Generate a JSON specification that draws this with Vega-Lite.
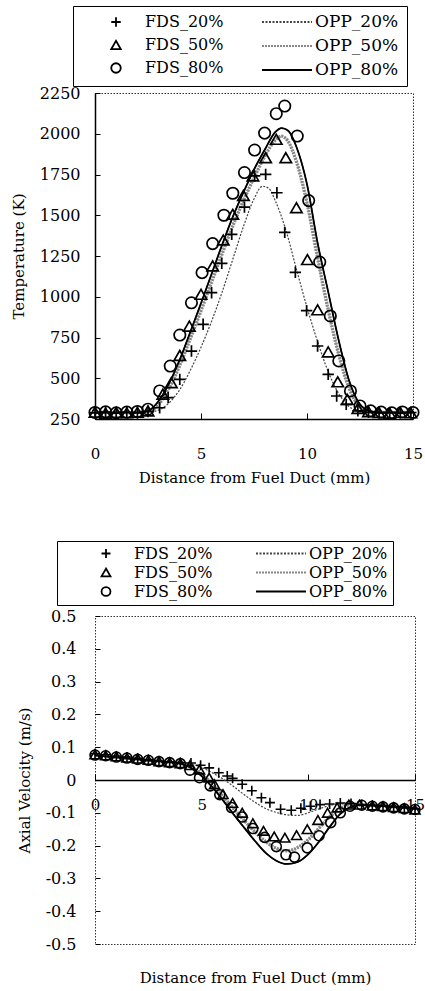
{
  "$schema": "https://vega.github.io/schema/vega-lite/v6.json",
  "background": "white",
  "padding": {"top": 5, "left": 10, "right": 0, "bottom": 0},
  "config": {
    "view": {"stroke": "#333", "strokeDash": [1.5, 1.5], "strokeWidth": 1},
    "font": "DejaVu Serif",
    "axis": {"labelFont": "DejaVu Serif", "titleFont": "DejaVu Serif", "labelColor": "black", "titleColor": "black", "labelFontSize": 16, "titleFontSize": 15, "titleFontWeight": "normal", "grid": false, "domainColor": "black", "tickColor": "black"},
    "legend": {"labelFont": "DejaVu Serif", "labelColor": "black", "titleFont": "DejaVu Serif"}
  },
  "datasets": {
    "oppT": [
      {"s":"OPP_20%","x":0,"y":288},{"s":"OPP_20%","x":1,"y":288},{"s":"OPP_20%","x":2,"y":289},{"s":"OPP_20%","x":2.5,"y":292},{"s":"OPP_20%","x":3,"y":305},{"s":"OPP_20%","x":3.5,"y":350},{"s":"OPP_20%","x":4,"y":430},{"s":"OPP_20%","x":4.5,"y":550},{"s":"OPP_20%","x":5,"y":690},{"s":"OPP_20%","x":5.5,"y":850},{"s":"OPP_20%","x":6,"y":1030},{"s":"OPP_20%","x":6.5,"y":1230},{"s":"OPP_20%","x":7,"y":1430},{"s":"OPP_20%","x":7.5,"y":1600},{"s":"OPP_20%","x":7.9,"y":1678},{"s":"OPP_20%","x":8.2,"y":1665},{"s":"OPP_20%","x":8.5,"y":1590},{"s":"OPP_20%","x":9,"y":1410},{"s":"OPP_20%","x":9.5,"y":1170},{"s":"OPP_20%","x":10,"y":935},{"s":"OPP_20%","x":10.5,"y":725},{"s":"OPP_20%","x":11,"y":540},{"s":"OPP_20%","x":11.5,"y":405},{"s":"OPP_20%","x":12,"y":325},{"s":"OPP_20%","x":12.5,"y":297},{"s":"OPP_20%","x":13,"y":289},{"s":"OPP_20%","x":14,"y":288},{"s":"OPP_20%","x":15,"y":288},
      {"s":"OPP_50%","x":0,"y":290},{"s":"OPP_50%","x":1,"y":290},{"s":"OPP_50%","x":2,"y":291},{"s":"OPP_50%","x":2.5,"y":296},{"s":"OPP_50%","x":3,"y":340},{"s":"OPP_50%","x":3.5,"y":440},{"s":"OPP_50%","x":4,"y":580},{"s":"OPP_50%","x":4.5,"y":745},{"s":"OPP_50%","x":5,"y":915},{"s":"OPP_50%","x":5.5,"y":1090},{"s":"OPP_50%","x":6,"y":1265},{"s":"OPP_50%","x":6.5,"y":1435},{"s":"OPP_50%","x":7,"y":1590},{"s":"OPP_50%","x":7.5,"y":1730},{"s":"OPP_50%","x":8,"y":1860},{"s":"OPP_50%","x":8.5,"y":1960},{"s":"OPP_50%","x":8.8,"y":1985},{"s":"OPP_50%","x":9.1,"y":1955},{"s":"OPP_50%","x":9.5,"y":1830},{"s":"OPP_50%","x":10,"y":1575},{"s":"OPP_50%","x":10.5,"y":1240},{"s":"OPP_50%","x":11,"y":920},{"s":"OPP_50%","x":11.5,"y":645},{"s":"OPP_50%","x":12,"y":435},{"s":"OPP_50%","x":12.5,"y":325},{"s":"OPP_50%","x":13,"y":295},{"s":"OPP_50%","x":13.5,"y":290},{"s":"OPP_50%","x":15,"y":290},
      {"s":"OPP_80%","x":0,"y":290},{"s":"OPP_80%","x":1,"y":290},{"s":"OPP_80%","x":2,"y":291},{"s":"OPP_80%","x":2.5,"y":300},{"s":"OPP_80%","x":3,"y":360},{"s":"OPP_80%","x":3.5,"y":470},{"s":"OPP_80%","x":4,"y":615},{"s":"OPP_80%","x":4.5,"y":785},{"s":"OPP_80%","x":5,"y":960},{"s":"OPP_80%","x":5.5,"y":1140},{"s":"OPP_80%","x":6,"y":1320},{"s":"OPP_80%","x":6.5,"y":1490},{"s":"OPP_80%","x":7,"y":1640},{"s":"OPP_80%","x":7.5,"y":1780},{"s":"OPP_80%","x":8,"y":1900},{"s":"OPP_80%","x":8.5,"y":2010},{"s":"OPP_80%","x":8.8,"y":2035},{"s":"OPP_80%","x":9.1,"y":2020},{"s":"OPP_80%","x":9.5,"y":1920},{"s":"OPP_80%","x":10,"y":1690},{"s":"OPP_80%","x":10.5,"y":1330},{"s":"OPP_80%","x":11,"y":1030},{"s":"OPP_80%","x":11.5,"y":730},{"s":"OPP_80%","x":12,"y":480},{"s":"OPP_80%","x":12.5,"y":340},{"s":"OPP_80%","x":13,"y":297},{"s":"OPP_80%","x":13.5,"y":290},{"s":"OPP_80%","x":15,"y":290}
    ],
    "fdsT": [
      {"s":"FDS_20%","x":0,"y":288},{"s":"FDS_20%","x":0.5,"y":292},{"s":"FDS_20%","x":1,"y":286},{"s":"FDS_20%","x":1.5,"y":290},{"s":"FDS_20%","x":2,"y":287},{"s":"FDS_20%","x":2.5,"y":296},{"s":"FDS_20%","x":3.05,"y":319},{"s":"FDS_20%","x":3.45,"y":381},{"s":"FDS_20%","x":4,"y":493},{"s":"FDS_20%","x":4.55,"y":667},{"s":"FDS_20%","x":5.1,"y":831},{"s":"FDS_20%","x":5.5,"y":1025},{"s":"FDS_20%","x":5.98,"y":1205},{"s":"FDS_20%","x":6.45,"y":1383},{"s":"FDS_20%","x":7.05,"y":1550},{"s":"FDS_20%","x":7.53,"y":1741},{"s":"FDS_20%","x":8.05,"y":1751},{"s":"FDS_20%","x":8.58,"y":1638},{"s":"FDS_20%","x":8.95,"y":1395},{"s":"FDS_20%","x":9.45,"y":1150},{"s":"FDS_20%","x":9.98,"y":915},{"s":"FDS_20%","x":10.5,"y":698},{"s":"FDS_20%","x":11,"y":524},{"s":"FDS_20%","x":11.4,"y":391},{"s":"FDS_20%","x":11.85,"y":340},{"s":"FDS_20%","x":12.4,"y":300},{"s":"FDS_20%","x":12.9,"y":291},{"s":"FDS_20%","x":13.4,"y":287},{"s":"FDS_20%","x":13.9,"y":289},{"s":"FDS_20%","x":14.4,"y":286},{"s":"FDS_20%","x":14.9,"y":290},
      {"s":"FDS_50%","x":0,"y":292},{"s":"FDS_50%","x":0.5,"y":286},{"s":"FDS_50%","x":1,"y":290},{"s":"FDS_50%","x":1.5,"y":288},{"s":"FDS_50%","x":2,"y":291},{"s":"FDS_50%","x":2.5,"y":300},{"s":"FDS_50%","x":3.2,"y":402},{"s":"FDS_50%","x":3.6,"y":473},{"s":"FDS_50%","x":4,"y":640},{"s":"FDS_50%","x":4.45,"y":820},{"s":"FDS_50%","x":5,"y":1015},{"s":"FDS_50%","x":5.55,"y":1189},{"s":"FDS_50%","x":6.05,"y":1348},{"s":"FDS_50%","x":6.5,"y":1506},{"s":"FDS_50%","x":7,"y":1622},{"s":"FDS_50%","x":7.45,"y":1741},{"s":"FDS_50%","x":8.05,"y":1853},{"s":"FDS_50%","x":8.55,"y":1966},{"s":"FDS_50%","x":9,"y":1853},{"s":"FDS_50%","x":9.5,"y":1546},{"s":"FDS_50%","x":10.02,"y":1228},{"s":"FDS_50%","x":10.5,"y":920},{"s":"FDS_50%","x":11,"y":662},{"s":"FDS_50%","x":11.45,"y":478},{"s":"FDS_50%","x":11.9,"y":370},{"s":"FDS_50%","x":12.4,"y":315},{"s":"FDS_50%","x":12.9,"y":295},{"s":"FDS_50%","x":13.4,"y":290},{"s":"FDS_50%","x":13.9,"y":286},{"s":"FDS_50%","x":14.4,"y":291},{"s":"FDS_50%","x":14.9,"y":288},
      {"s":"FDS_80%","x":0,"y":290},{"s":"FDS_80%","x":0.5,"y":294},{"s":"FDS_80%","x":1,"y":288},{"s":"FDS_80%","x":1.5,"y":292},{"s":"FDS_80%","x":2,"y":296},{"s":"FDS_80%","x":2.5,"y":310},{"s":"FDS_80%","x":3.05,"y":422},{"s":"FDS_80%","x":3.55,"y":575},{"s":"FDS_80%","x":4,"y":765},{"s":"FDS_80%","x":4.55,"y":963},{"s":"FDS_80%","x":5.05,"y":1148},{"s":"FDS_80%","x":5.55,"y":1326},{"s":"FDS_80%","x":6.08,"y":1500},{"s":"FDS_80%","x":6.5,"y":1635},{"s":"FDS_80%","x":7.05,"y":1762},{"s":"FDS_80%","x":7.53,"y":1900},{"s":"FDS_80%","x":8,"y":2004},{"s":"FDS_80%","x":8.55,"y":2123},{"s":"FDS_80%","x":8.95,"y":2170},{"s":"FDS_80%","x":9.54,"y":1986},{"s":"FDS_80%","x":10.08,"y":1590},{"s":"FDS_80%","x":10.6,"y":1213},{"s":"FDS_80%","x":11.1,"y":882},{"s":"FDS_80%","x":11.5,"y":606},{"s":"FDS_80%","x":12.05,"y":422},{"s":"FDS_80%","x":12.5,"y":330},{"s":"FDS_80%","x":13,"y":300},{"s":"FDS_80%","x":13.5,"y":292},{"s":"FDS_80%","x":14,"y":288},{"s":"FDS_80%","x":14.5,"y":293},{"s":"FDS_80%","x":15,"y":290}
    ],
    "oppV": [
      {"s":"OPP_20%","x":0,"y":0.075},{"s":"OPP_20%","x":1,"y":0.069},{"s":"OPP_20%","x":2,"y":0.063},{"s":"OPP_20%","x":3,"y":0.058},{"s":"OPP_20%","x":4,"y":0.052},{"s":"OPP_20%","x":4.5,"y":0.048},{"s":"OPP_20%","x":5,"y":0.038},{"s":"OPP_20%","x":5.5,"y":0.022},{"s":"OPP_20%","x":6,"y":0.003},{"s":"OPP_20%","x":6.5,"y":-0.02},{"s":"OPP_20%","x":7,"y":-0.045},{"s":"OPP_20%","x":7.5,"y":-0.068},{"s":"OPP_20%","x":8,"y":-0.087},{"s":"OPP_20%","x":8.5,"y":-0.099},{"s":"OPP_20%","x":9,"y":-0.106},{"s":"OPP_20%","x":9.5,"y":-0.108},{"s":"OPP_20%","x":10,"y":-0.1},{"s":"OPP_20%","x":10.5,"y":-0.088},{"s":"OPP_20%","x":11,"y":-0.078},{"s":"OPP_20%","x":11.5,"y":-0.073},{"s":"OPP_20%","x":12,"y":-0.073},{"s":"OPP_20%","x":13,"y":-0.077},{"s":"OPP_20%","x":14,"y":-0.081},{"s":"OPP_20%","x":15,"y":-0.085},
      {"s":"OPP_50%","x":0,"y":0.075},{"s":"OPP_50%","x":1,"y":0.069},{"s":"OPP_50%","x":2,"y":0.063},{"s":"OPP_50%","x":3,"y":0.057},{"s":"OPP_50%","x":4,"y":0.051},{"s":"OPP_50%","x":4.5,"y":0.04},{"s":"OPP_50%","x":5,"y":0.018},{"s":"OPP_50%","x":5.5,"y":-0.013},{"s":"OPP_50%","x":6,"y":-0.05},{"s":"OPP_50%","x":6.5,"y":-0.088},{"s":"OPP_50%","x":7,"y":-0.124},{"s":"OPP_50%","x":7.5,"y":-0.158},{"s":"OPP_50%","x":8,"y":-0.188},{"s":"OPP_50%","x":8.5,"y":-0.208},{"s":"OPP_50%","x":9,"y":-0.216},{"s":"OPP_50%","x":9.5,"y":-0.206},{"s":"OPP_50%","x":10,"y":-0.182},{"s":"OPP_50%","x":10.5,"y":-0.147},{"s":"OPP_50%","x":11,"y":-0.112},{"s":"OPP_50%","x":11.5,"y":-0.087},{"s":"OPP_50%","x":12,"y":-0.076},{"s":"OPP_50%","x":13,"y":-0.077},{"s":"OPP_50%","x":14,"y":-0.081},{"s":"OPP_50%","x":15,"y":-0.085},
      {"s":"OPP_80%","x":0,"y":0.075},{"s":"OPP_80%","x":1,"y":0.069},{"s":"OPP_80%","x":2,"y":0.063},{"s":"OPP_80%","x":3,"y":0.057},{"s":"OPP_80%","x":4,"y":0.05},{"s":"OPP_80%","x":4.5,"y":0.037},{"s":"OPP_80%","x":5,"y":0.012},{"s":"OPP_80%","x":5.5,"y":-0.022},{"s":"OPP_80%","x":6,"y":-0.062},{"s":"OPP_80%","x":6.5,"y":-0.105},{"s":"OPP_80%","x":7,"y":-0.146},{"s":"OPP_80%","x":7.5,"y":-0.186},{"s":"OPP_80%","x":8,"y":-0.222},{"s":"OPP_80%","x":8.5,"y":-0.246},{"s":"OPP_80%","x":9,"y":-0.256},{"s":"OPP_80%","x":9.5,"y":-0.25},{"s":"OPP_80%","x":10,"y":-0.226},{"s":"OPP_80%","x":10.5,"y":-0.188},{"s":"OPP_80%","x":11,"y":-0.143},{"s":"OPP_80%","x":11.5,"y":-0.103},{"s":"OPP_80%","x":12,"y":-0.082},{"s":"OPP_80%","x":12.5,"y":-0.076},{"s":"OPP_80%","x":13,"y":-0.077},{"s":"OPP_80%","x":14,"y":-0.081},{"s":"OPP_80%","x":15,"y":-0.085}
    ],
    "fdsV": [
      {"s":"FDS_20%","x":0,"y":0.08},{"s":"FDS_20%","x":0.5,"y":0.077},{"s":"FDS_20%","x":1,"y":0.073},{"s":"FDS_20%","x":1.5,"y":0.07},{"s":"FDS_20%","x":2,"y":0.066},{"s":"FDS_20%","x":2.5,"y":0.062},{"s":"FDS_20%","x":3,"y":0.058},{"s":"FDS_20%","x":3.5,"y":0.055},{"s":"FDS_20%","x":4,"y":0.053},{"s":"FDS_20%","x":4.5,"y":0.052},{"s":"FDS_20%","x":4.95,"y":0.045},{"s":"FDS_20%","x":5.35,"y":0.037},{"s":"FDS_20%","x":5.8,"y":0.022},{"s":"FDS_20%","x":6.2,"y":0.012},{"s":"FDS_20%","x":6.45,"y":0.005},{"s":"FDS_20%","x":6.9,"y":-0.013},{"s":"FDS_20%","x":7.35,"y":-0.033},{"s":"FDS_20%","x":7.8,"y":-0.054},{"s":"FDS_20%","x":8.2,"y":-0.069},{"s":"FDS_20%","x":8.7,"y":-0.089},{"s":"FDS_20%","x":9.2,"y":-0.092},{"s":"FDS_20%","x":9.65,"y":-0.086},{"s":"FDS_20%","x":10.1,"y":-0.08},{"s":"FDS_20%","x":10.55,"y":-0.075},{"s":"FDS_20%","x":11,"y":-0.073},{"s":"FDS_20%","x":11.5,"y":-0.07},{"s":"FDS_20%","x":12,"y":-0.072},{"s":"FDS_20%","x":12.5,"y":-0.075},{"s":"FDS_20%","x":13,"y":-0.078},{"s":"FDS_20%","x":13.5,"y":-0.08},{"s":"FDS_20%","x":14,"y":-0.082},{"s":"FDS_20%","x":14.5,"y":-0.085},{"s":"FDS_20%","x":15,"y":-0.088},
      {"s":"FDS_50%","x":0,"y":0.078},{"s":"FDS_50%","x":0.5,"y":0.075},{"s":"FDS_50%","x":1,"y":0.072},{"s":"FDS_50%","x":1.5,"y":0.068},{"s":"FDS_50%","x":2,"y":0.065},{"s":"FDS_50%","x":2.5,"y":0.061},{"s":"FDS_50%","x":3,"y":0.057},{"s":"FDS_50%","x":3.5,"y":0.054},{"s":"FDS_50%","x":4,"y":0.051},{"s":"FDS_50%","x":4.45,"y":0.045},{"s":"FDS_50%","x":4.9,"y":0.032},{"s":"FDS_50%","x":5.35,"y":0.007},{"s":"FDS_50%","x":5.6,"y":-0.013},{"s":"FDS_50%","x":6,"y":-0.043},{"s":"FDS_50%","x":6.45,"y":-0.07},{"s":"FDS_50%","x":6.9,"y":-0.1},{"s":"FDS_50%","x":7.4,"y":-0.132},{"s":"FDS_50%","x":7.9,"y":-0.155},{"s":"FDS_50%","x":8.4,"y":-0.172},{"s":"FDS_50%","x":8.9,"y":-0.176},{"s":"FDS_50%","x":9.45,"y":-0.168},{"s":"FDS_50%","x":9.95,"y":-0.15},{"s":"FDS_50%","x":10.45,"y":-0.122},{"s":"FDS_50%","x":10.9,"y":-0.1},{"s":"FDS_50%","x":11.35,"y":-0.084},{"s":"FDS_50%","x":11.9,"y":-0.075},{"s":"FDS_50%","x":12.4,"y":-0.075},{"s":"FDS_50%","x":13,"y":-0.078},{"s":"FDS_50%","x":13.5,"y":-0.08},{"s":"FDS_50%","x":14,"y":-0.083},{"s":"FDS_50%","x":14.5,"y":-0.086},{"s":"FDS_50%","x":15,"y":-0.09},
      {"s":"FDS_80%","x":0,"y":0.076},{"s":"FDS_80%","x":0.5,"y":0.074},{"s":"FDS_80%","x":1,"y":0.07},{"s":"FDS_80%","x":1.5,"y":0.067},{"s":"FDS_80%","x":2,"y":0.063},{"s":"FDS_80%","x":2.5,"y":0.06},{"s":"FDS_80%","x":3,"y":0.056},{"s":"FDS_80%","x":3.5,"y":0.053},{"s":"FDS_80%","x":4,"y":0.05},{"s":"FDS_80%","x":4.45,"y":0.03},{"s":"FDS_80%","x":4.9,"y":0.007},{"s":"FDS_80%","x":5.4,"y":-0.018},{"s":"FDS_80%","x":5.85,"y":-0.045},{"s":"FDS_80%","x":6.4,"y":-0.084},{"s":"FDS_80%","x":6.9,"y":-0.113},{"s":"FDS_80%","x":7.4,"y":-0.148},{"s":"FDS_80%","x":7.95,"y":-0.175},{"s":"FDS_80%","x":8.5,"y":-0.203},{"s":"FDS_80%","x":8.95,"y":-0.228},{"s":"FDS_80%","x":9.35,"y":-0.235},{"s":"FDS_80%","x":9.95,"y":-0.207},{"s":"FDS_80%","x":10.5,"y":-0.17},{"s":"FDS_80%","x":11.05,"y":-0.13},{"s":"FDS_80%","x":11.5,"y":-0.1},{"s":"FDS_80%","x":11.95,"y":-0.08},{"s":"FDS_80%","x":12.5,"y":-0.077},{"s":"FDS_80%","x":13,"y":-0.08},{"s":"FDS_80%","x":13.5,"y":-0.082},{"s":"FDS_80%","x":14,"y":-0.085},{"s":"FDS_80%","x":14.5,"y":-0.088},{"s":"FDS_80%","x":15,"y":-0.09}
    ]
  },
  "resolve": {
    "scale": {"shape": "independent", "color": "independent", "strokeDash": "independent"},
    "legend": {"shape": "independent", "color": "independent", "strokeDash": "independent"}
  },
  "concat": [
    {
      "width": 318,
      "height": 326,
      "encoding": {
        "x": {"field": "x", "type": "quantitative", "scale": {"domain": [0, 15], "nice": false, "zero": false},
          "axis": {"title": "Distance from Fuel Duct (mm)", "values": [0, 5, 10, 15], "labelFlush": false, "labelFontSize": 15, "tickSize": -6, "domainWidth": 1.5, "labelPadding": 33, "titlePadding": 9}},
        "y": {"field": "y", "type": "quantitative", "scale": {"domain": [250, 2250], "nice": false, "zero": false},
          "axis": {"title": "Temperature (K)", "format": "d", "values": [250, 500, 750, 1000, 1250, 1500, 1750, 2000, 2250], "tickSize": -5, "domainWidth": 1.5, "labelPadding": 20, "titlePadding": 13}}
      },
      "layer": [
        {"data": {"name": "oppT"}, "mark": {"type": "line", "interpolate": "monotone", "strokeWidth": 1.2},
          "encoding": {
            "color": {"field": "s", "type": "nominal", "scale": {"domain": ["OPP_20%", "OPP_50%", "OPP_80%"], "range": ["#444", "#888", "black"]},
              "legend": {"title": "\u00a0", "titleOrient": "left", "titlePadding": 180, "titleFontSize": 16, "orient": "none", "legendX": -22, "legendY": -87, "direction": "vertical", "padding": 8, "rowPadding": 7, "clipHeight": 16, "strokeColor": "black", "symbolType": "stroke", "symbolSize": 2500, "symbolStrokeWidth": 2, "labelOffset": 2, "labelFontSize": 17}},
            "strokeDash": {"field": "s", "type": "nominal", "scale": {"domain": ["OPP_20%", "OPP_50%", "OPP_80%"], "range": [[2, 1.5], [2, 1], [1, 0]]},
              "legend": {"title": "\u00a0", "titleOrient": "left", "titlePadding": 180, "titleFontSize": 16, "orient": "none", "legendX": -22, "legendY": -87, "direction": "vertical", "padding": 8, "rowPadding": 7, "clipHeight": 16, "strokeColor": "black", "symbolType": "stroke", "symbolSize": 2500, "symbolStrokeWidth": 2, "labelOffset": 2, "labelFontSize": 17}}
          }},
        {"data": {"name": "oppT"}, "transform": [{"filter": "datum.s === 'OPP_50%'"}], "mark": {"type": "line", "interpolate": "monotone", "stroke": "#888", "strokeWidth": 3.4, "strokeDash": [2, 1]}},
        {"data": {"name": "oppT"}, "transform": [{"filter": "datum.s === 'OPP_80%'"}], "mark": {"type": "line", "interpolate": "monotone", "stroke": "black", "strokeWidth": 1.8}},
        {"data": {"name": "fdsT"}, "mark": {"type": "point", "filled": false, "color": "black", "strokeWidth": 1.7, "size": 130, "opacity": 1},
          "encoding": {"shape": {"field": "s", "type": "nominal",
            "scale": {"domain": ["FDS_20%", "FDS_50%", "FDS_80%"], "range": ["M-1,0H1M0,-1V1", "triangle-up", "circle"]},
            "legend": {"title": null, "orient": "none", "legendX": 13, "legendY": -79, "direction": "vertical", "padding": 0, "rowPadding": 7, "clipHeight": 16, "symbolSize": 90, "symbolStrokeColor": "black", "symbolStrokeWidth": 1.8, "symbolFillColor": "transparent", "labelOffset": 21, "labelFontSize": 16}
          }}
        }
      ]
    },
    {
      "width": 320,
      "height": 328,
      "encoding": {
        "x": {"field": "x", "type": "quantitative", "scale": {"domain": [0, 15], "nice": false, "zero": false},
          "axis": {"title": "Distance from Fuel Duct (mm)", "values": [0, 5, 10, 15], "labelFlush": false, "labelFontSize": 15, "offset": -164, "tickSize": -6, "domainWidth": 1.5, "labelPadding": 23, "titlePadding": 158}},
        "y": {"field": "y", "type": "quantitative", "scale": {"domain": [-0.5, 0.5], "nice": false, "zero": false},
          "axis": {"title": "Axial Velocity (m/s)", "values": [-0.5, -0.4, -0.3, -0.2, -0.1, 0, 0.1, 0.2, 0.3, 0.4, 0.5], "labelExpr": "datum.value === 0 ? '0' : (datum.value < 0 ? '-' : '') + format(abs(datum.value), '.1f')", "domain": false, "tickSize": -5, "labelPadding": 24, "titlePadding": 13}}
      },
      "layer": [
        {"data": {"name": "oppV"}, "mark": {"type": "line", "interpolate": "monotone", "strokeWidth": 1.2},
          "encoding": {
            "color": {"field": "s", "type": "nominal", "scale": {"domain": ["OPP_20%", "OPP_50%", "OPP_80%"], "range": ["#444", "#888", "black"]},
              "legend": {"title": "\u00a0", "titleOrient": "left", "titlePadding": 193, "titleFontSize": 16, "orient": "none", "legendX": -38, "legendY": -75, "direction": "vertical", "padding": 5, "rowPadding": 2, "clipHeight": 15, "strokeColor": "black", "symbolType": "stroke", "symbolSize": 2500, "symbolStrokeWidth": 2, "labelOffset": 2, "labelFontSize": 16}},
            "strokeDash": {"field": "s", "type": "nominal", "scale": {"domain": ["OPP_20%", "OPP_50%", "OPP_80%"], "range": [[2, 1.5], [2, 1], [1, 0]]},
              "legend": {"title": "\u00a0", "titleOrient": "left", "titlePadding": 193, "titleFontSize": 16, "orient": "none", "legendX": -38, "legendY": -75, "direction": "vertical", "padding": 5, "rowPadding": 2, "clipHeight": 15, "strokeColor": "black", "symbolType": "stroke", "symbolSize": 2500, "symbolStrokeWidth": 2, "labelOffset": 2, "labelFontSize": 16}}
          }},
        {"data": {"name": "oppV"}, "transform": [{"filter": "datum.s === 'OPP_50%'"}], "mark": {"type": "line", "interpolate": "monotone", "stroke": "#888", "strokeWidth": 3.4, "strokeDash": [2, 1]}},
        {"data": {"name": "oppV"}, "transform": [{"filter": "datum.s === 'OPP_80%'"}], "mark": {"type": "line", "interpolate": "monotone", "stroke": "black", "strokeWidth": 1.8}},
        {"data": {"name": "fdsV"}, "mark": {"type": "point", "filled": false, "color": "black", "strokeWidth": 1.6, "size": 100, "opacity": 1},
          "encoding": {"shape": {"field": "s", "type": "nominal",
            "scale": {"domain": ["FDS_20%", "FDS_50%", "FDS_80%"], "range": ["M-1,0H1M0,-1V1", "triangle-up", "circle"]},
            "legend": {"title": null, "orient": "none", "legendX": 3, "legendY": -70, "direction": "vertical", "padding": 0, "rowPadding": 2, "clipHeight": 15, "symbolSize": 80, "symbolStrokeColor": "black", "symbolStrokeWidth": 1.8, "symbolFillColor": "transparent", "labelOffset": 20, "labelFontSize": 16}
          }}
        }
      ]
    }
  ],
  "columns": 1,
  "spacing": 54
}
